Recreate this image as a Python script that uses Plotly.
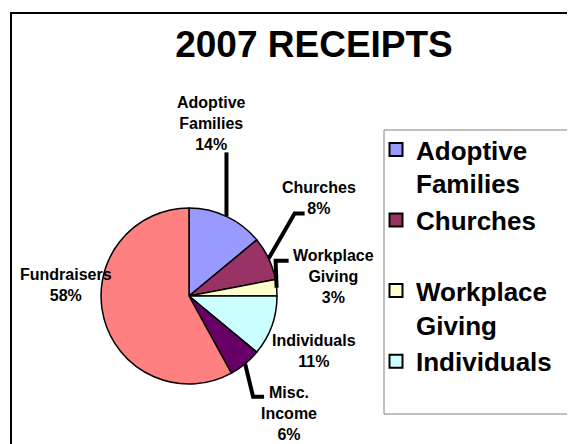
import math
import plotly.graph_objects as go

# ---------------- data ----------------
categories = ["Adoptive Families", "Churches", "Workplace Giving",
              "Individuals", "Misc. Income", "Fundraisers"]
label_text = ["Adoptive<br>Families", "Churches", "Workplace<br>Giving",
              "Individuals", "Misc.<br>Income", "Fundraisers"]
values = [14, 8, 3, 11, 6, 58]
colors = ["#9999FF", "#993366", "#FFFFCC", "#CCFFFF", "#660066", "#FF8080"]
legend_entries = ["Adoptive<br>Families", "Churches<br> ", "Workplace<br>Giving", "Individuals<br> "]
title_text = "2007 RECEIPTS"

# ---------------- layout geometry (page pixels) ----------------
W, H = 575, 444
OFF = 8                            # page body margin
CX, CY, R = 189, 296, 88           # pie centre / radius in page pixels

def px(x):
    return (x - OFF) / W

def py(y):
    return 1 - (y - OFF) / H

# label centres (pixels) per slice
label_pos = [(211, 123), (319, 198), (333, 276), (314, 351), (289, 413), (66, 285)]
# leader lines: (kink offset from slice edge, horizontal run) or None
leaders = [((0, -64), 0), ((26, -45), 10), ((-1, -27), 13), None, ((8, 33), 11), None]

fig = go.Figure()

fig.add_trace(go.Pie(
    labels=categories, values=values, sort=False, direction="clockwise",
    rotation=0, textinfo="none", hoverinfo="label+percent",
    marker=dict(colors=colors, line=dict(color="black", width=1.5)),
    domain=dict(x=[px(CX - R), px(CX + R)], y=[py(CY + R), py(CY - R)]),
    showlegend=False,
))

# legend entries (first four, as in the original)
for name, col in zip(legend_entries, colors):
    fig.add_trace(go.Scatter(
        x=[None], y=[None], mode="markers", name=name,
        marker=dict(symbol="square", size=13, color=col,
                    line=dict(color="black", width=2)),
    ))

total = sum(values)
cum = 0
shapes = []
annotations = []
for i, v in enumerate(values):
    pct = round(100 * v / total)
    mid = 2 * math.pi * (cum + v / 2) / total
    cum += v
    ex = CX + R * math.sin(mid)
    ey = CY - R * math.cos(mid)
    lx, ly = label_pos[i]
    annotations.append(dict(
        x=px(lx), y=py(ly), xref="paper", yref="paper",
        text=f"{label_text[i]}<br>{pct}%", showarrow=False,
        xanchor="center", yanchor="middle", align="center",
        font=dict(family="Liberation Sans", size=16, color="black", weight="bold"),
    ))
    if leaders[i] is not None:
        (dx, dy), run = leaders[i]
        kx, ky = ex + dx, ey + dy
        path = f"M {px(ex)},{py(ey)} L {px(kx)},{py(ky)} L {px(kx + run)},{py(ky)}"
        shapes.append(dict(type="path", path=path, xref="paper", yref="paper",
                           line=dict(color="black", width=4)))

# outer frame and legend frame
shapes.append(dict(type="rect", xref="paper", yref="paper",
                   x0=px(11), y0=py(470), x1=px(600), y1=py(13),
                   line=dict(color="black", width=2), layer="below"))
shapes.append(dict(type="rect", xref="paper", yref="paper",
                   x0=px(384), y0=py(414), x1=px(600), y1=py(130),
                   line=dict(color="#808080", width=1), layer="below"))

fig.update_layout(
    width=W, height=H,
    margin=dict(l=0, r=0, t=0, b=0),
    paper_bgcolor="white", plot_bgcolor="white",
    title=dict(text=title_text, x=px(314), xanchor="center",
               y=py(44), yanchor="middle", yref="container",
               font=dict(family="Liberation Sans", size=37, color="black", weight="bold")),
    xaxis=dict(visible=False), yaxis=dict(visible=False),
    legend=dict(x=px(376), xanchor="left", y=py(126), yanchor="top",
                bgcolor="rgba(0,0,0,0)", borderwidth=0, valign="top",
                itemsizing="trace",
                font=dict(family="Liberation Sans", size=26, color="black", weight="bold")),
    shapes=shapes, annotations=annotations,
)

fig.write_html("out.html")
